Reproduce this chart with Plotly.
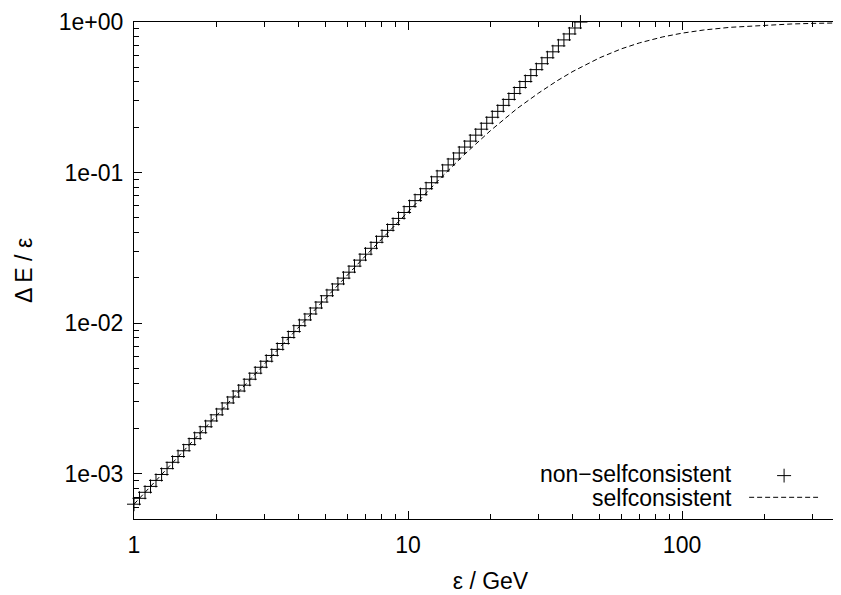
import plotly.graph_objects as go

# non-selfconsistent points
x_ns = [1.000, 1.047, 1.097, 1.149, 1.203, 1.261, 1.320, 1.383, 1.448, 1.518,
        1.589, 1.665, 1.744, 1.826, 1.912, 2.003, 2.098, 2.198, 2.302, 2.411,
        2.525, 2.645, 2.770, 2.902, 3.039, 3.183, 3.334, 3.492, 3.658, 3.831,
        4.013, 4.204, 4.402, 4.611, 4.830, 5.059, 5.298, 5.549, 5.812, 6.089,
        6.377, 6.679, 6.996, 7.327, 7.675, 8.038, 8.420, 8.819, 9.237, 9.675,
        10.13, 10.61, 11.11, 11.64, 12.19, 12.77, 13.38, 14.01, 14.67, 15.38,
        16.10, 16.87, 17.67, 18.51, 19.38, 20.30, 21.26, 22.27, 23.33, 24.43,
        25.59, 26.80, 28.07, 29.40, 30.80, 32.25, 33.78, 35.38, 37.07, 38.82,
        40.66, 42.59]
y_ns = [6.27e-4, 6.86e-4, 7.52e-4, 8.23e-4, 9.02e-4, 9.88e-4, 1.08e-3, 1.19e-3, 1.30e-3, 1.42e-3,
        1.56e-3, 1.71e-3, 1.87e-3, 2.05e-3, 2.24e-3, 2.46e-3, 2.69e-3, 2.95e-3, 3.23e-3, 3.54e-3,
        3.87e-3, 4.24e-3, 4.65e-3, 5.09e-3, 5.58e-3, 6.10e-3, 6.69e-3, 7.32e-3, 8.02e-3, 8.79e-3,
        9.62e-3, 1.05e-2, 1.15e-2, 1.26e-2, 1.38e-2, 1.52e-2, 1.66e-2, 1.82e-2, 1.99e-2, 2.18e-2,
        2.39e-2, 2.62e-2, 2.87e-2, 3.14e-2, 3.44e-2, 3.77e-2, 4.13e-2, 4.52e-2, 4.96e-2, 5.43e-2,
        5.94e-2, 6.51e-2, 7.13e-2, 7.81e-2, 8.56e-2, 9.37e-2, 0.1026, 0.1124, 0.1231, 0.1349,
        0.1477, 0.1618, 0.1772, 0.1941, 0.2126, 0.2329, 0.2551, 0.2794, 0.3061, 0.3352,
        0.3672, 0.4022, 0.4406, 0.4826, 0.5286, 0.5787, 0.6338, 0.6943, 0.7605, 0.8330,
        0.9124, 0.999]

# selfconsistent curve
x_sc = [1, 1.5, 2, 3, 4, 5, 7, 10, 13, 16, 20, 25, 30, 35, 40, 50, 60, 70, 85,
        100, 120, 150, 200, 250, 300, 400]
y_sc = [6.27e-4, 1.39e-3, 2.44e-3, 5.40e-3, 9.48e-3, 1.46e-2, 2.80e-2, 5.52e-2, 9.00e-2,
        0.131, 0.190, 0.266, 0.338, 0.407, 0.470, 0.578, 0.663, 0.727, 0.796,
        0.843, 0.885, 0.922, 0.954, 0.970, 0.979, 0.988]

x_tick_vals = [1, 10, 100]
x_tick_text = ["1", "10", "100"]
x_minor_vals = [2, 3, 4, 5, 6, 7, 8, 9, 20, 30, 40, 50, 60, 70, 80, 90, 200, 300]
y_tick_vals = [1e-3, 1e-2, 1e-1, 1]
y_tick_text = ["1e-03", "1e-02", "1e-01", "1e+00"]
y_minor_vals = [6e-4, 7e-4, 8e-4, 9e-4,
                2e-3, 3e-3, 4e-3, 5e-3, 6e-3, 7e-3, 8e-3, 9e-3,
                2e-2, 3e-2, 4e-2, 5e-2, 6e-2, 7e-2, 8e-2, 9e-2,
                0.2, 0.3, 0.4, 0.5, 0.6, 0.7, 0.8, 0.9]
series_names = ["non\u2212selfconsistent", "selfconsistent"]

FONT = "Liberation Sans, Arial, Helvetica, sans-serif"
FS = 23

# The page body has an 8px margin, so figure coords = page coords - 8.
OFF = 8
W, H = 841, 595
L, R, T, B = 126, 1, 7, 84
pw, ph = W - L - R, H - T - B

def px(xpage):
    return (xpage - OFF - L) / pw

def py(ypage):
    return (H - B - (ypage - OFF)) / ph

fig = go.Figure()
fig.add_trace(go.Scatter(
    x=x_ns, y=y_ns, mode="markers", name=series_names[0],
    marker=dict(symbol="cross-thin", size=10, color="black",
                line=dict(width=1, color="black")),
    cliponaxis=False, showlegend=False))
fig.add_trace(go.Scatter(
    x=x_sc, y=y_sc, mode="lines", name=series_names[1],
    line=dict(color="black", width=1, dash="5px,3px"),
    showlegend=False))

annotations = [
    dict(text=series_names[0], x=px(735), y=py(473), xref="paper", yref="paper",
         xanchor="right", yanchor="middle", showarrow=False,
         font=dict(family=FONT, size=FS, color="black")),
    dict(text=series_names[1], x=px(735), y=py(498), xref="paper", yref="paper",
         xanchor="right", yanchor="middle", showarrow=False,
         font=dict(family=FONT, size=FS, color="black")),
]
shapes = [
    dict(type="line", xref="paper", yref="paper", x0=px(778), x1=px(792),
         y0=py(475), y1=py(475), line=dict(color="black", width=1)),
    dict(type="line", xref="paper", yref="paper", x0=px(785), x1=px(785),
         y0=py(468), y1=py(482), line=dict(color="black", width=1)),
    dict(type="line", xref="paper", yref="paper", x0=px(750), x1=px(819),
         y0=py(497), y1=py(497), line=dict(color="black", width=1, dash="5px,3px")),
]

fig.update_layout(
    width=W, height=H,
    margin=dict(l=L, r=R, t=T, b=B, pad=0),
    paper_bgcolor="white", plot_bgcolor="white",
    font=dict(family=FONT, size=FS, color="black"),
    annotations=annotations, shapes=shapes,
    showlegend=False,
)
fig.update_xaxes(
    type="log", range=[0, 2.60206],
    showline=True, linecolor="black", linewidth=1, mirror="ticks",
    showgrid=False, zeroline=False,
    ticks="inside", ticklen=8, tickwidth=1, tickcolor="black",
    tickvals=x_tick_vals, ticktext=x_tick_text,
    ticklabelstandoff=5, ticklabeloverflow="allow",
    minor=dict(ticks="inside", ticklen=5, tickwidth=1, tickcolor="black",
               tickvals=x_minor_vals, showgrid=False),
    title=dict(text="\u03b5 / GeV", standoff=16, font=dict(family=FONT, size=FS)),
)
fig.update_yaxes(
    type="log", range=[-3.30103, 0],
    showline=True, linecolor="black", linewidth=1, mirror="ticks",
    showgrid=False, zeroline=False,
    ticks="inside", ticklen=8, tickwidth=1, tickcolor="black",
    tickvals=y_tick_vals, ticktext=y_tick_text,
    ticklabelstandoff=5, ticklabeloverflow="allow",
    minor=dict(ticks="inside", ticklen=5, tickwidth=1, tickcolor="black",
               tickvals=y_minor_vals, showgrid=False),
    title=dict(text="\u0394 E / \u03b5", standoff=19, font=dict(family=FONT, size=FS)),
)

fig.write_html("out.html")
